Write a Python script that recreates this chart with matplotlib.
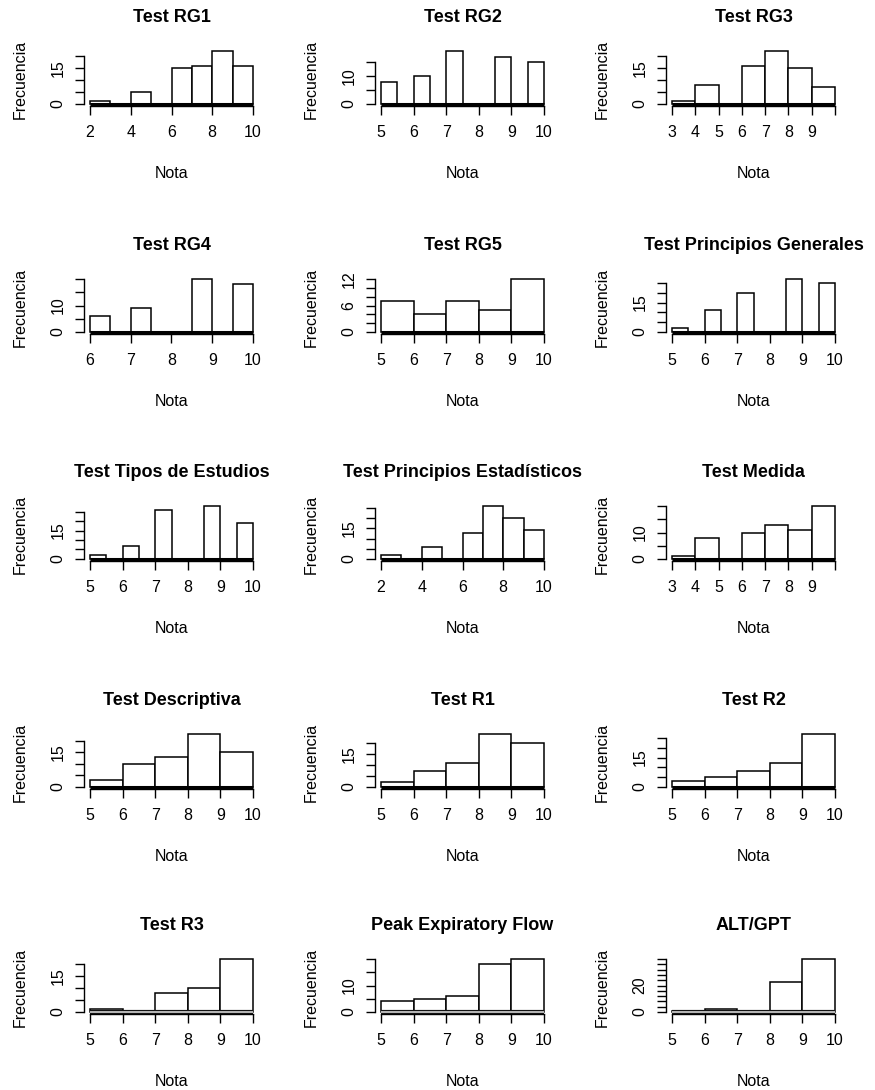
import numpy as np
import matplotlib.pyplot as plt

plt.rcParams['font.family'] = ['Liberation Sans', 'DejaVu Sans']

# panel titles, row by row
titles = ['Test RG1', 'Test RG2', 'Test RG3',
          'Test RG4', 'Test RG5', 'Test Principios Generales',
          'Test Tipos de Estudios', 'Test Principios Estadísticos', 'Test Medida',
          'Test Descriptiva', 'Test R1', 'Test R2',
          'Test R3', 'Peak Expiratory Flow', 'ALT/GPT']

# histogram counts
rg1 = [1, 0, 5, 0, 15, 16, 22, 16]
rg2 = [8, 0, 10, 0, 19, 0, 0, 17, 0, 15]
rg3 = [1, 8, 0, 16, 22, 15, 7]
rg4 = [6, 0, 9, 0, 0, 20, 0, 18]
rg5 = [7, 4, 7, 5, 12]
principios_gen = [2, 0, 11, 0, 20, 0, 0, 27, 0, 25]
tipos_estudios = [2, 0, 7, 0, 26, 0, 0, 28, 0, 19]
principios_est = [2, 0, 6, 0, 13, 26, 20, 14]
medida = [1, 8, 0, 10, 13, 11, 20]
descriptiva = [3, 10, 13, 23, 15]
r1 = [2, 7, 11, 24, 20]
r2 = [3, 5, 8, 12, 27]
r3 = [1, 0, 8, 10, 22]
pef = [4, 5, 6, 18, 20]
alt_gpt = [1, 2, 0, 23, 40]

counts = [rg1, rg2, rg3, rg4, rg5, principios_gen, tipos_estudios,
          principios_est, medida, descriptiva, r1, r2, r3, pef, alt_gpt]

# first break and bin width of each histogram
bin_start = [2, 5, 3, 6, 5, 5, 5, 2, 3, 5, 5, 5, 5, 5, 5]
bin_width = [1, 0.5, 1, 0.5, 1, 0.5, 0.5, 1, 1, 1, 1, 1, 1, 1, 1]

# axis ticks as R drew them
x_ticks = [[2, 4, 6, 8, 10], [5, 6, 7, 8, 9, 10], [3, 4, 5, 6, 7, 8, 9, 10],
           [6, 7, 8, 9, 10], [5, 6, 7, 8, 9, 10], [5, 6, 7, 8, 9, 10],
           [5, 6, 7, 8, 9, 10], [2, 4, 6, 8, 10], [3, 4, 5, 6, 7, 8, 9, 10],
           [5, 6, 7, 8, 9, 10], [5, 6, 7, 8, 9, 10], [5, 6, 7, 8, 9, 10],
           [5, 6, 7, 8, 9, 10], [5, 6, 7, 8, 9, 10], [5, 6, 7, 8, 9, 10]]
x_hidden = [[], [], [10], [], [], [], [], [], [10], [], [], [], [], [], []]
y_top = [20, 15, 20, 20, 12, 25, 25, 25, 20, 20, 20, 25, 20, 20, 40]
y_step = [5, 5, 5, 5, 2, 5, 5, 5, 5, 5, 5, 5, 5, 5, 4]
y_shown = [[0, 15], [0, 10], [0, 15], [0, 10], [0, 6, 12], [0, 15],
           [0, 15], [0, 15], [0, 10], [0, 15], [0, 15], [0, 15],
           [0, 15], [0, 10], [0, 20]]

W, H = 875, 1090
col_left = [83.5, 374.5, 665.5]
row_bottom = [106, 334, 561, 789, 1014]
ax_w, ax_h = 176, 57

fig = plt.figure(figsize=(W / 100, H / 100), dpi=100)

for i, title in enumerate(titles):
    r, c = divmod(i, 3)
    ax = fig.add_axes([col_left[c] / W, 1 - row_bottom[r] / H, ax_w / W, ax_h / H])

    cnt = np.array(counts[i])
    edges = bin_start[i] + bin_width[i] * np.arange(len(cnt) + 1)
    lo, hi = edges[0], edges[-1]
    top = cnt.max()

    ax.bar(edges[:-1], cnt, width=bin_width[i], align='edge', color='white',
           edgecolor='black', linewidth=1.1, zorder=2)
    # the flat line that the empty bins leave at zero
    if r == 4:
        ax.plot([lo, hi], [0, 0], color='black', lw=3.0, solid_capstyle='butt', zorder=3)
        ax.plot([lo, hi], [0, 0], color='#b4b4b4', lw=1.6, solid_capstyle='butt', zorder=4)
    else:
        ax.plot([lo, hi], [0, 0], color='black', lw=2.2, solid_capstyle='butt', zorder=3)

    ax.set_xlim(lo - 0.04 * (hi - lo), hi + 0.04 * (hi - lo))
    ax.set_ylim(-0.04 * top, 1.04 * top)

    for s in ['top', 'right']:
        ax.spines[s].set_visible(False)
    xt = x_ticks[i]
    ax.spines['bottom'].set_bounds(xt[0], xt[-1])
    ax.spines['left'].set_bounds(0, y_top[i])
    ax.spines['bottom'].set_linewidth(1.0)
    ax.spines['left'].set_linewidth(1.0)

    ax.set_xticks(xt)
    ax.set_xticklabels(['' if v in x_hidden[i] else str(v) for v in xt])
    yt = np.arange(0, y_top[i] + 1, y_step[i])
    ax.set_yticks(yt)
    ax.set_yticklabels([str(v) if v in y_shown[i] else '' for v in yt],
                       rotation=90, va='center')
    ax.tick_params(axis='both', direction='out', length=6.5, width=1.0,
                   labelsize=11.5)
    ax.tick_params(axis='x', pad=7)
    ax.tick_params(axis='y', pad=6.5)

    ax.text(0.5, 1 + 27 / ax_h, title, transform=ax.transAxes, ha='center',
            va='baseline', fontsize=13, fontweight='bold')
    ax.text(0.5, -72 / ax_h, 'Nota', transform=ax.transAxes, ha='center',
            va='baseline', fontsize=11.5)
    ax.text(-63 / ax_w, 0.46, 'Frecuencia', transform=ax.transAxes, ha='center',
            va='center', rotation=90, fontsize=11.5)

fig.savefig('out.png', dpi=100, facecolor='white')
